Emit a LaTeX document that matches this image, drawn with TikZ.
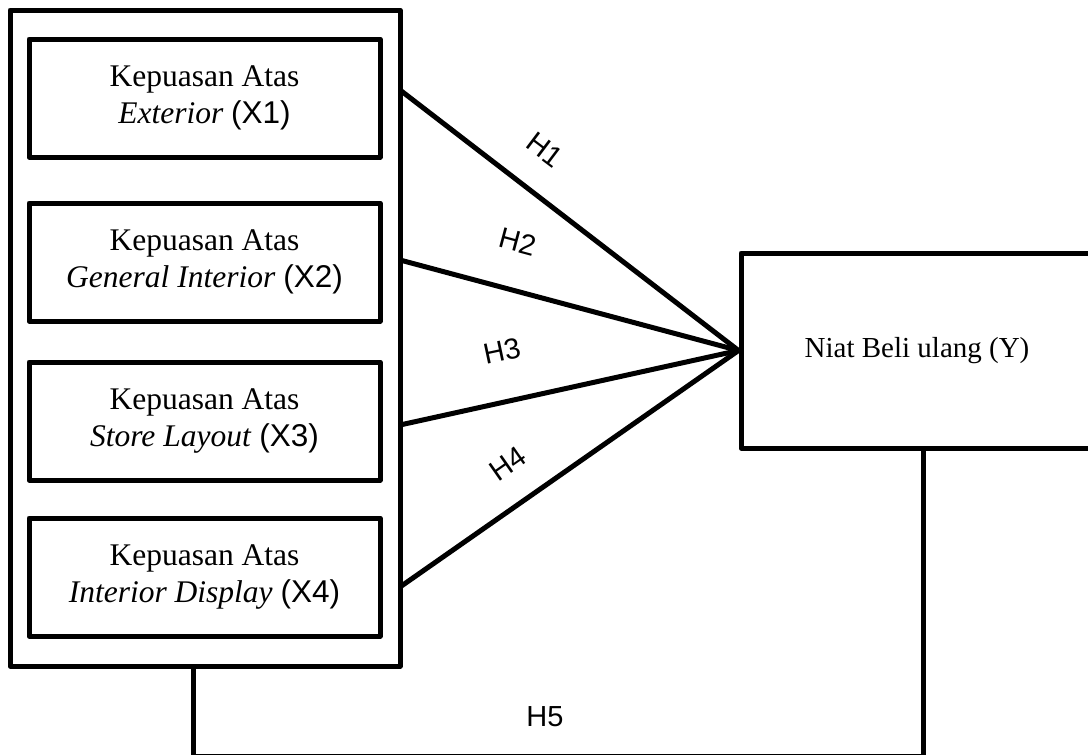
\documentclass[tikz,border=0pt]{standalone}
\usepackage{fontspec}
\setmainfont{Liberation Serif}
\newfontfamily\arialf{Liberation Sans}
\begin{document}
\begin{tikzpicture}[x=1pt,y=-1pt,
  frame/.style={draw, line width=5pt, line join=round, inner sep=0pt},
  box/.style={frame, minimum width=351pt, minimum height=118pt, align=center,
    font=\fontsize{31.5}{37}\selectfont},
  conn/.style={line width=5pt},
  hlab/.style={font=\arialf\fontsize{29}{32}\selectfont, inner sep=0pt}]
\useasboundingbox (0,0) rectangle (1088,755);
\clip (0,0) rectangle (1088,755);
% outer frame
\node[frame, minimum width=390pt, minimum height=656pt] (outer) at (205,338) {};
% inner boxes
\node[box] (x1) at (204.5,98) {Kepuasan Atas\\\textit{Exterior} {\arialf(X1)}};
\node[box] (x2) at (204.5,262) {Kepuasan Atas\\\textit{General Interior} {\arialf(X2)}};
\node[box] (x3) at (204.5,421) {Kepuasan Atas\\\textit{Store Layout} {\arialf(X3)}};
\node[box] (x4) at (204.5,577) {Kepuasan Atas\\\textit{Interior Display} {\arialf(X4)}};
% dependent
\node[frame, minimum width=352pt, minimum height=195pt, font=\fontsize{29}{34}\selectfont] (y) at (917,350.5) {Niat Beli ulang (Y)};
% connector start points on the frame
\coordinate (s1) at (400,90);
\coordinate (s2) at (400,260);
\coordinate (s3) at (400,425);
\coordinate (s4) at (400,587);
\draw[conn] (s1) -- (y.west);
\draw[conn] (s2) -- (y.west);
\draw[conn] (s3) -- (y.west);
\draw[conn] (s4) -- (y.west);
% H5 path
\coordinate (b1) at (193,756);
\coordinate (b2) at (923,756);
\draw[conn] (b1 |- outer.south) -- (b1) -- (b2) -- (b2 |- y.south);
% labels
\node[hlab, rotate=-37] (h1) at (545,150) {H1};
\node[hlab, rotate=-15] (h2) at (518,242) {H2};
\node[hlab, rotate=12] (h3) at (502,351) {H3};
\node[hlab, rotate=35] (h4) at (508,464) {H4};
\node[hlab] (h5) at (545,717) {H5};
\end{tikzpicture}
\end{document}
